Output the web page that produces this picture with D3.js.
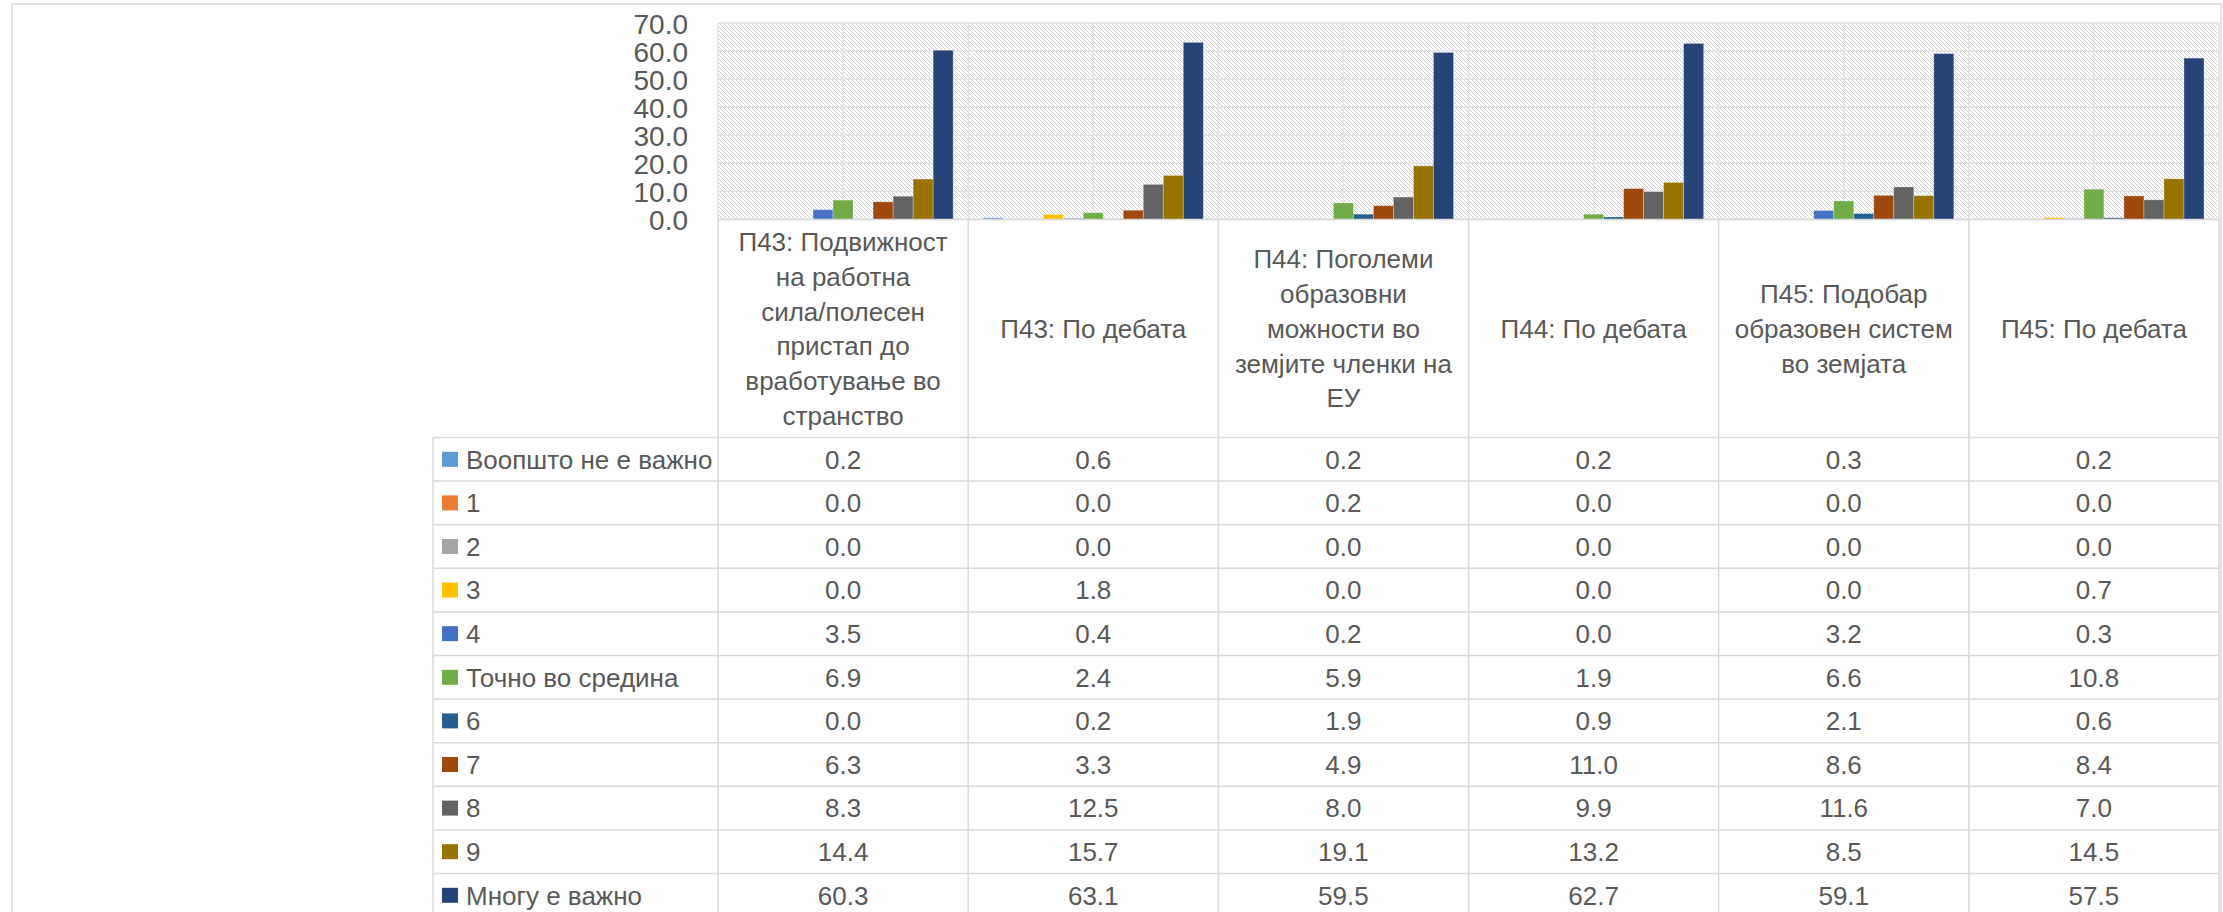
<!DOCTYPE html>
<html><head><meta charset="utf-8">
<script src="https://cdn.jsdelivr.net/npm/d3@7/dist/d3.min.js"></script>
<style>html,body{margin:0;padding:0;background:#fff;overflow:hidden}svg{display:block}</style>
</head><body>
<script>
const categories = ["П43: Подвижност на работна сила/полесен пристап до вработување во странство","П43: По дебата","П44: Поголеми образовни можности во земјите членки на ЕУ","П44: По дебата","П45: Подобар образовен систем во земјата","П45: По дебата"];
const categoryLines = [
  ["П43: Подвижност","на работна","сила/полесен","пристап до","вработување во","странство"],
  ["П43: По дебата"],
  ["П44: Поголеми","образовни","можности во","земјите членки на","ЕУ"],
  ["П44: По дебата"],
  ["П45: Подобар","образовен систем","во земјата"],
  ["П45: По дебата"]
];
const seriesNames = ["Воопшто не е важно","1","2","3","4","Точно во средина","6","7","8","9","Многу е важно"];
const seriesColors = ["#5B9BD5","#ED7D31","#A5A5A5","#FFC000","#4472C4","#70AD47","#255E91","#9E480E","#636363","#997300","#264478"];
const v0 = [0.2,0.6,0.2,0.2,0.3,0.2];
const v1 = [0.0,0.0,0.2,0.0,0.0,0.0];
const v2 = [0.0,0.0,0.0,0.0,0.0,0.0];
const v3 = [0.0,1.8,0.0,0.0,0.0,0.7];
const v4 = [3.5,0.4,0.2,0.0,3.2,0.3];
const v5 = [6.9,2.4,5.9,1.9,6.6,10.8];
const v6 = [0.0,0.2,1.9,0.9,2.1,0.6];
const v7 = [6.3,3.3,4.9,11.0,8.6,8.4];
const v8 = [8.3,12.5,8.0,9.9,11.6,7.0];
const v9 = [14.4,15.7,19.1,13.2,8.5,14.5];
const v10 = [60.3,63.1,59.5,62.7,59.1,57.5];
const yTicks = [0,10,20,30,40,50,60,70];

const values = [v0,v1,v2,v3,v4,v5,v6,v7,v8,v9,v10];

const W = 2223, H = 912;
const plotL = 718, plotR = 2219, plotT = 23, plotB = 219.5;
const tableL = 433, rowTop = 437.5, rowH = 43.6;
const grid = "#d9d9d9", txt = "#595959";
const font = "'Liberation Sans', Arial, sans-serif";

const svg = d3.select("body").append("svg").attr("width", W).attr("height", H);
const defs = svg.append("defs");
const pat = defs.append("pattern").attr("id","hatch").attr("patternUnits","userSpaceOnUse")
  .attr("width",4).attr("height",4);
pat.append("rect").attr("width",4).attr("height",4).attr("fill","#fff");
pat.append("path").attr("d","M-1,-1 L5,5 M-1,3 L1,5 M3,-1 L5,1").attr("stroke","#cfcfcf").attr("stroke-width",1);

// outer border
svg.append("rect").attr("x",12).attr("y",4).attr("width",2209).attr("height",H+20)
  .attr("fill","none").attr("stroke",grid).attr("stroke-width",1.5);

const x = d3.scaleBand().domain(categories).range([plotL, plotR]);
const xs = d3.scaleBand().domain(seriesNames).range([0, x.bandwidth()]).paddingInner(0).paddingOuter(0.75);
const y = d3.scaleLinear().domain([0,70]).range([plotB, plotT]);

svg.append("rect").attr("x",plotL).attr("y",plotT).attr("width",plotR-plotL).attr("height",plotB-plotT).attr("fill","url(#hatch)");

// horizontal gridlines
svg.append("g").selectAll("line").data(yTicks).join("line")
  .attr("x1",plotL).attr("x2",plotR).attr("y1",d=>y(d)).attr("y2",d=>y(d))
  .attr("stroke","#e2e2e2").attr("stroke-width",1.5);
// vertical gridlines (category boundaries and centres)
const vlines = [];
categories.forEach(c => { vlines.push(x(c)); vlines.push(x(c)+x.bandwidth()/2); });
vlines.push(plotR);
svg.append("g").selectAll("line").data(vlines).join("line")
  .attr("x1",d=>d).attr("x2",d=>d).attr("y1",plotT).attr("y2",plotB)
  .attr("stroke","#e2e2e2").attr("stroke-width",1.5);

// bars
const gS = svg.append("g").selectAll("g").data(seriesNames).join("g").attr("fill",(d,i)=>seriesColors[i]);
gS.selectAll("rect").data((s,i)=>categories.map((c,j)=>({c, s, v: values[i][j]}))).join("rect")
  .attr("x",d=>x(d.c)+xs(d.s)).attr("width",xs.bandwidth())
  .attr("y",d=>y(d.v)).attr("height",d=>y(0)-y(d.v))
  .attr("stroke","#ffffff").attr("stroke-opacity",0.35).attr("stroke-width",0.8);

// y axis
const yAxis = d3.axisLeft(y).tickValues(yTicks).tickFormat(d3.format(".1f")).tickSize(0).tickPadding(0);
const ga = svg.append("g").attr("transform",`translate(688,0)`).call(yAxis);
ga.select(".domain").remove();
ga.selectAll("text").attr("fill",txt).style("font-family",font).style("font-size","28px").attr("dy","0.36em");

// axis line
svg.append("line").attr("x1",plotL).attr("x2",plotR).attr("y1",plotB).attr("y2",plotB).attr("stroke",grid).attr("stroke-width",1.5);

// table lines
const tg = svg.append("g").attr("stroke",grid).attr("stroke-width",1.5);
const nRows = seriesNames.length;
const tableB = rowTop + nRows*rowH;
categories.forEach(c => tg.append("line").attr("x1",x(c)).attr("x2",x(c)).attr("y1",plotB).attr("y2",tableB));
tg.append("line").attr("x1",plotR).attr("x2",plotR).attr("y1",plotB).attr("y2",tableB);
tg.append("line").attr("x1",tableL).attr("x2",tableL).attr("y1",rowTop).attr("y2",tableB);
for (let i=0;i<=nRows;i++){
  tg.append("line").attr("x1",tableL).attr("x2",plotR).attr("y1",rowTop+i*rowH).attr("y2",rowTop+i*rowH);
}

// header text
const lh = 34.7;
categories.forEach((c,j)=>{
  const lines = categoryLines[j];
  const cy = (plotB + rowTop)/2;
  const t = svg.append("text").attr("text-anchor","middle").attr("fill",txt)
    .style("font-family",font).style("font-size","26px");
  lines.forEach((l,k)=>{
    t.append("tspan").attr("x", x(c)+x.bandwidth()/2)
      .attr("y", cy + (k-(lines.length-1)/2)*lh).attr("dy","0.36em").text(l);
  });
});

// rows
seriesNames.forEach((s,i)=>{
  const cy = rowTop + i*rowH + rowH/2;
  svg.append("rect").attr("x",442).attr("y",cy-7.5).attr("width",16).attr("height",15).attr("fill",seriesColors[i]);
  svg.append("text").attr("x",466).attr("y",cy).attr("dy","0.36em").attr("fill",txt)
    .style("font-family",font).style("font-size","26px").text(s);
  categories.forEach((c,j)=>{
    svg.append("text").attr("x",x(c)+x.bandwidth()/2).attr("y",cy).attr("dy","0.36em")
      .attr("text-anchor","middle").attr("fill",txt).style("font-family",font).style("font-size","26px")
      .text(d3.format(".1f")(values[i][j]));
  });
});
</script>
</body></html>
